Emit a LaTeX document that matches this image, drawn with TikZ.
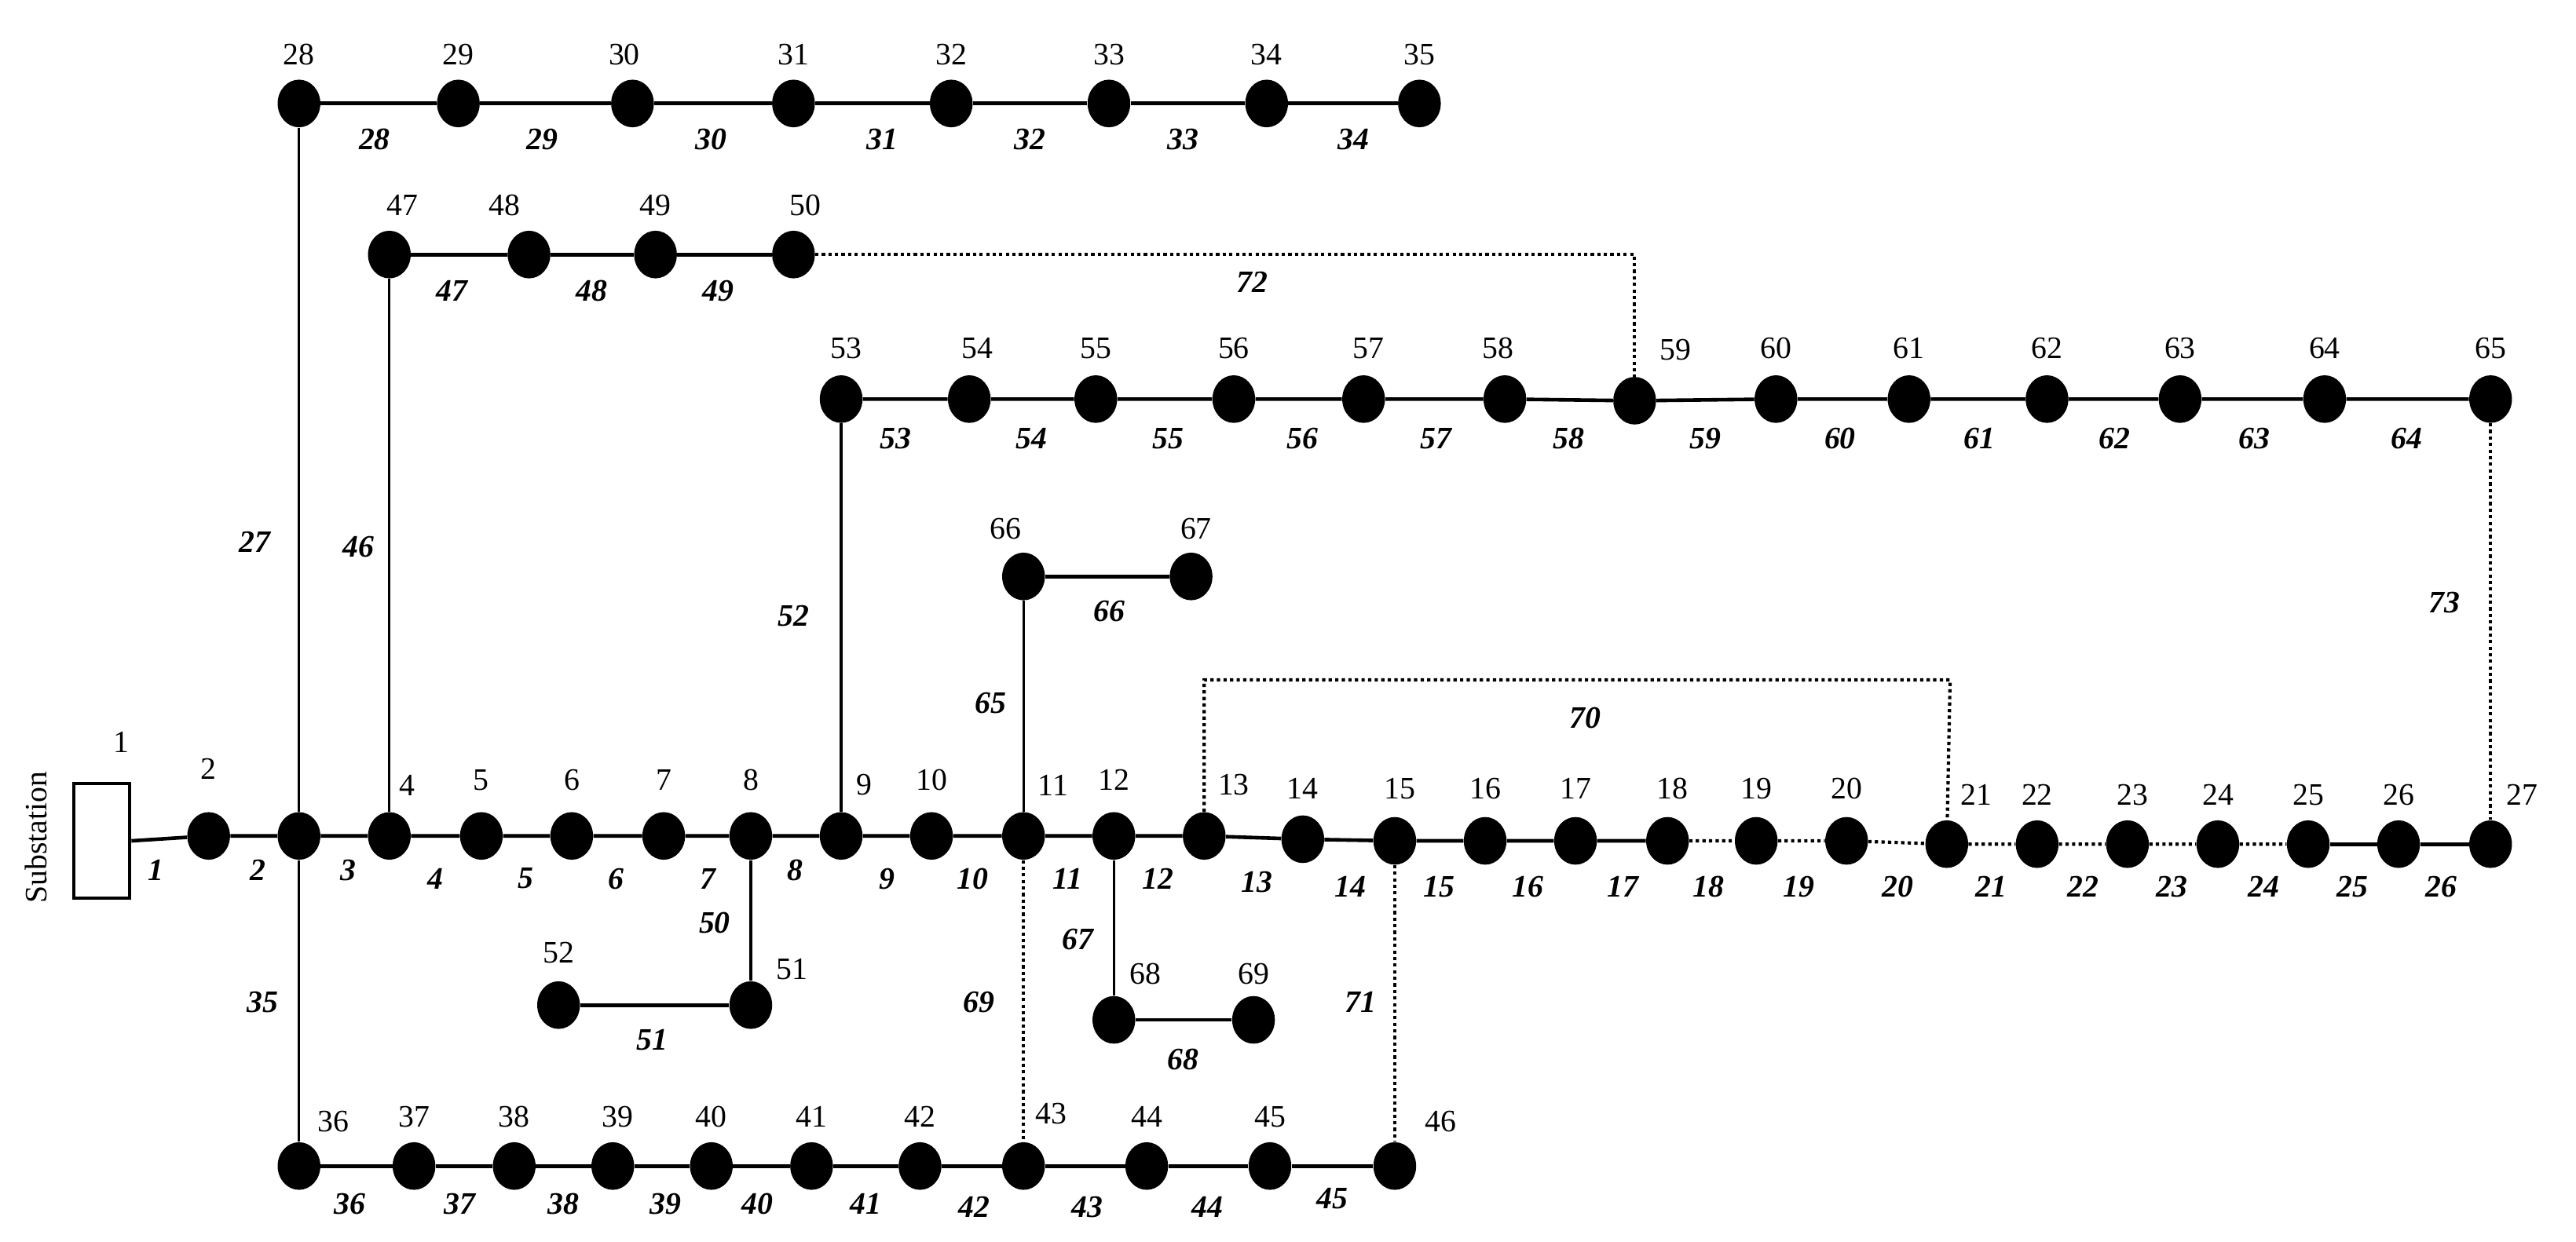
\documentclass[tikz,border=0pt]{standalone}
\usepackage{fontspec}
\setmainfont{Liberation Serif}
\begin{document}
\begin{tikzpicture}[x=1pt,y=-1pt,
  bus/.style={ellipse,fill=black,minimum width=26pt,minimum height=29pt,inner sep=0pt},
  line/.style={line width=2.2pt},
  tie/.style={line width=2pt,dotted},
  bl/.style={font=\fontsize{19}{19}\selectfont\bfseries\itshape},
  nl/.style={font=\fontsize{19}{19}\selectfont}]
\useasboundingbox (0,0) rectangle (1568,756);
\tikzset{every node/.append style={}}
\usetikzlibrary{shapes.geometric}
% substation
\node[draw,line width=2pt,minimum width=34pt,minimum height=70pt,inner sep=0pt] (sub) at (62,512) {};
\node[nl] at (74,452) {1};
\node[nl,rotate=90] (subt) at (22,510) {Substation};
% buses
\foreach \n/\x/\y in {2/127/509,3/182/509,4/237/509,5/293/509,6/348/509,7/404/509,8/457/509,9/512/509,10/567/509,11/623/509,12/678/509,13/733/509,14/793/511,15/849/512,16/904/512,17/959/512,18/1015/512,19/1069/512,20/1124/512,21/1185/514,22/1240/514,23/1295/514,24/1350/514,25/1405/514,26/1460/514,27/1516/514,
28/182/63,29/279/63,30/385/63,31/483/63,32/579/63,33/675/63,34/771/63,35/864/63,
47/237/155,48/322/155,49/399/155,50/483/155,
53/512/243,54/590/243,55/667/243,56/751/243,57/830/243,58/916/243,59/995/244,60/1081/243,61/1162/243,62/1246/243,63/1327/243,64/1415/243,65/1516/243,
66/623/351,67/725/351,68/678/621,69/763/621,51/457/612,52/340/612,
36/182/710,37/252/710,38/313/710,39/373/710,40/433/710,41/494/710,42/560/710,43/623/710,44/698/710,45/773/710,46/849/710}
  \node[bus] (b\n) at (\x,\y) {};
% bus labels
\foreach \n/\x/\y in {2/127/468,4/248/478,5/293/475,6/348/475,7/404/475,8/457/475,9/526/478,10/567/475,11/641/478,12/678/475,13/751/478,14/793/480,15/852/480,16/904/480,17/959/480,18/1018/480,19/1069/480,20/1124/480,21/1203/484,22/1240/484,23/1298/484,24/1350/484,25/1405/484,26/1460/484,27/1535/484,
28/182/33,29/279/33,30/380/33,31/483/33,32/579/33,33/675/33,34/771/33,35/864/33,
47/245/125,48/307/125,49/399/125,50/490/125,
53/515/212,54/595/212,55/667/212,56/751/212,57/833/212,58/912/212,59/1020/213,60/1081/212,61/1162/212,62/1246/212,63/1327/212,64/1415/212,65/1516/212,
66/612/322,67/728/322,68/697/593,69/763/593,51/482/590,52/340/580,
36/203/683,37/252/680,38/313/680,39/376/680,40/433/680,41/494/680,42/560/680,43/640/678,44/698/680,45/773/680,46/877/683}
  \node[nl] at (\x,\y) {\n};
% solid lines
\draw[line] (sub.east) -- (b2) -- (b3) -- (b4) -- (b5) -- (b6) -- (b7) -- (b8) -- (b9) -- (b10) -- (b11) -- (b12) -- (b13) -- (b14) -- (b15) -- (b16) -- (b17) -- (b18);
\draw[line] (b25) -- (b26) -- (b27);
\draw[tie] (b18) -- (b19) -- (b20) -- (b21) -- (b22) -- (b23) -- (b24) -- (b25);
\draw[line] (b28) -- (b29) -- (b30) -- (b31) -- (b32) -- (b33) -- (b34) -- (b35);
\draw[line] (b47) -- (b48) -- (b49) -- (b50);
\draw[line] (b53) -- (b54) -- (b55) -- (b56) -- (b57) -- (b58) -- (b59) -- (b60) -- (b61) -- (b62) -- (b63) -- (b64) -- (b65);
\draw[line] (b36) -- (b37) -- (b38) -- (b39) -- (b40) -- (b41) -- (b42) -- (b43) -- (b44) -- (b45) -- (b46);
\draw[line] (b66) -- (b67);
\draw[line] (b68) -- (b69);
\draw[line] (b52) -- (b51);
\draw[line width=1.6pt] (b3) -- (b28);
\draw[line width=1.6pt] (b3) -- (b36);
\draw[line width=1.6pt] (b4) -- (b47);
\draw[line width=1.6pt] (b9) -- (b53);
\draw[line width=1.6pt] (b11) -- (b66);
\draw[line width=1.6pt] (b12) -- (b68);
\draw[line width=1.6pt] (b8) -- (b51);
% tie lines
\draw[tie] (b50) -- (995,155) -- (b59);
\draw[tie] (b65) -- (b27);
\draw[tie] (b13) -- (733,414) -- (1187,414) -- (b21);
\draw[tie] (b11) -- (b43);
\draw[tie] (b15) -- (b46);
% branch labels
\foreach \n/\x/\y in {1/95/530,2/157/530,3/212/530,4/265/535,5/320/535,6/375/535,7/431/535,8/484/530,9/540/535,10/592/535,11/650/535,12/705/535,13/765/537,14/822/540,15/876/540,16/930/540,17/988/540,18/1040/540,19/1095/540,20/1155/540,21/1212/540,22/1268/540,23/1322/540,24/1378/540,25/1432/540,26/1486/540,
28/228/85,29/330/85,30/433/85,31/537/85,32/627/85,33/720/85,34/824/85,
47/275/177,48/360/177,49/437/177,
53/545/267,54/628/267,55/711/267,56/793/267,57/874/267,58/955/267,59/1038/267,60/1120/267,61/1205/267,62/1287/267,63/1372/267,64/1465/267,
27/155/330,46/218/333,52/483/375,65/603/428,66/675/372,67/656/572,68/720/645,50/435/562,51/397/633,35/160/610,69/596/610,71/828/610,
36/213/733,37/280/733,38/343/733,39/405/733,40/461/733,41/527/733,42/593/735,43/662/735,44/735/735,45/811/730,
72/762/172,73/1488/367,70/965/437}
  \node[bl] at (\x,\y) {\n};
\end{tikzpicture}
\end{document}
